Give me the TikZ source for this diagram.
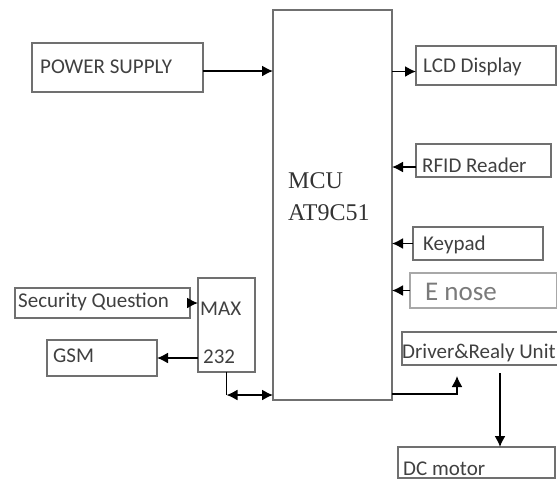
\documentclass[tikz,border=0pt]{standalone}
\usepackage{fontspec}
\setmainfont{Carlito}
\newfontfamily\mcufont{Liberation Serif}
\usetikzlibrary{arrows.meta}
\definecolor{boxgray}{HTML}{707070}
\definecolor{lightbox}{HTML}{A8A8A8}
\definecolor{txtgray}{HTML}{404040}
\definecolor{lighttxt}{HTML}{7A7A7A}
\begin{document}
\begin{tikzpicture}[x=1pt,y=-1pt,
  box/.style={draw=boxgray, line width=2.2pt, anchor=north west, inner sep=0pt, outer sep=0pt},
  lbl/.style={anchor=base west, inner sep=0pt, text=txtgray, font=\fontsize{21}{21}\selectfont},
  tip/.style={Latex[length=11pt,width=11pt]},
  arr/.style={-{Latex[length=11pt,width=11pt]}, line width=1.6pt, black},
  biarr/.style={{Latex[length=11pt,width=11pt]}-{Latex[length=11pt,width=11pt]}, line width=1.6pt, black},
  wire/.style={line width=1.6pt, black}]
\useasboundingbox (0,0) rectangle (557,480);

% blocks
\node[box, minimum width=171pt, minimum height=49pt] (power) at (32,43) {};
\node[box, minimum width=119pt, minimum height=390pt] (mcu) at (273,10) {};
\node[box, minimum width=140pt, minimum height=39pt] (lcd) at (416,46) {};
\node[box, minimum width=135pt, minimum height=33pt] (rfid) at (416,144) {};
\node[box, minimum width=130pt, minimum height=33pt] (keypad) at (413,227) {};
\node[box, draw=lightbox, minimum width=147pt, minimum height=35pt] (enose) at (410,273) {};
\node[box, minimum width=170pt, minimum height=33pt] (driver) at (402,332) {};
\node[box, minimum width=157pt, minimum height=31pt] (dcmotor) at (398,447) {};
\node[box, minimum width=175pt, minimum height=30pt] (secq) at (15,288) {};
\node[box, minimum width=57pt, minimum height=94pt] (max) at (198,278) {};
\node[box, minimum width=110pt, minimum height=36pt] (gsm) at (47,340) {};

% labels
\node[lbl] (tpower) at (40,73) {POWER SUPPLY};
\node[lbl] (tlcd) at (423,72) {LCD Display};
\node[lbl] (trfid) at (422,172) {RFID Reader};
\node[lbl] (tkey) at (423,250) {Keypad};
\node[lbl, text=lighttxt, font=\fontsize{27}{27}\selectfont] (tenose) at (425,300) {E nose};
\node[lbl] (tsecq) at (18,307) {Security Question};
\node[lbl] (tmax) at (200,315) {MAX};
\node[lbl] (t232) at (203,363) {232};
\node[lbl] (tgsm) at (53,362) {GSM};
\node[lbl] (tdriver) at (402,358) {Driver\&Realy Unit};
\node[lbl] (tdc) at (403,475) {DC motor};
\node[lbl, text=black!80, font=\mcufont\fontsize{24}{24}\selectfont] (tmcu1) at (288,188) {MCU};
\node[lbl, text=black!80, font=\mcufont\fontsize{24}{24}\selectfont] (tmcu2) at (288,220) {AT9C51};

% connection points
\coordinate (pwrout) at ([yshift=-3.5pt]power.east);
\coordinate (lcdin) at ([yshift=-6pt]lcd.west);
\coordinate (rfidout) at ([yshift=-6.5pt]rfid.west);
\coordinate (bus) at (max.south |- 0,395);
\coordinate (drvtip) at (457,376);
\coordinate (drvout) at (500,373);

% connectors
\draw[arr] (pwrout) -- (pwrout -| mcu.west);
\draw[arr] (mcu.east |- lcdin) -- (lcdin);
\draw[arr] (rfidout) -- (rfidout -| mcu.east);
\draw[arr] (keypad.west) -- (keypad.west -| mcu.east);
\draw[arr] (enose.west) -- (enose.west -| mcu.east);
\draw[arr] (secq.east) -- (secq.east -| max.west);
\draw[arr] (max.west |- gsm.east) -- (gsm.east);
\draw[wire] (max.south) -- (bus);
\draw[biarr] (bus) -- (bus -| mcu.west);
\draw[arr] ([yshift=6pt]mcu.south east) -| (drvtip);
\draw[arr] (drvout) -- (drvout |- dcmotor.north);
\end{tikzpicture}
\end{document}
